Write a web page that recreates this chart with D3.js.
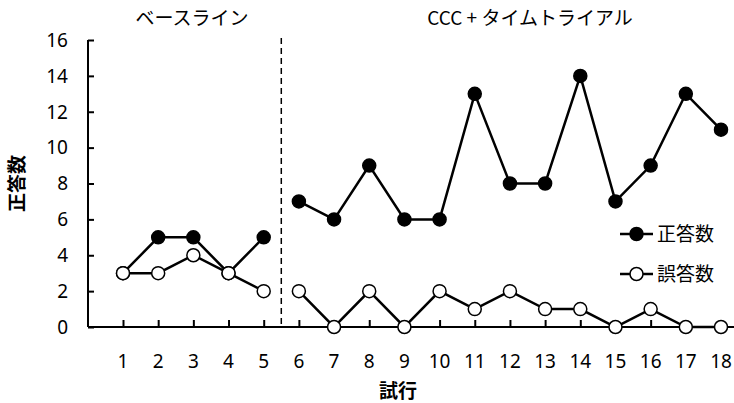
<!DOCTYPE html>
<html>
<head>
<meta charset="utf-8">
<script src="https://cdn.jsdelivr.net/npm/d3@7"></script>
<style>
  body { margin: 0; background: #fff; }
  svg { font-family: "Noto Sans CJK JP", "Open Sans", sans-serif; }
  .num { font-family: "Noto Sans", "Open Sans", sans-serif; }
</style>
</head>
<body>
<div id="chart"></div>
<script>
// Data
let trials = d3.range(1, 19);
let phaseBreak = 5; // baseline ends after trial 5
let correct = [3, 5, 5, 3, 5, 7, 6, 9, 6, 6, 13, 8, 8, 14, 7, 9, 13, 11];
let wrong = [3, 3, 4, 3, 2, 2, 0, 2, 0, 2, 1, 2, 1, 1, 0, 1, 0, 0];
let yTicks = [0, 2, 4, 6, 8, 10, 12, 14, 16];
let phaseNames = ["ベースライン", "CCC + タイムトライアル"];
let seriesNames = ["正答数", "誤答数"];

// Set up dimensions
let width = 734;
let height = 403;
let margin = { top: 40, right: 13, bottom: 76, left: 88 };
let dotRadius = 6.5;

// Set up scales
let xScale = d3.scaleLinear().domain([1, 18]).range([123, 721]);
let yScale = d3
  .scaleLinear()
  .domain([0, 16])
  .range([height - margin.bottom, margin.top]);

const svg = d3
  .select("#chart")
  .append("svg")
  .attr("width", width)
  .attr("height", height);

// Draw y axis
const yAxisG = svg
  .append("g")
  .attr("transform", `translate(${margin.left},0)`)
  .call(d3.axisRight(yScale).tickValues(yTicks).tickSize(6).tickFormat(""));
yAxisG.select(".domain").attr("stroke-width", 2).attr("d", `M0,${yScale(16)}V${yScale(0)}`);
yAxisG.selectAll(".tick line").attr("stroke-width", 2);

svg
  .append("g")
  .attr("class", "num")
  .selectAll("text")
  .data(yTicks)
  .join("text")
  .attr("x", margin.left - 20)
  .attr("y", (d) => yScale(d))
  .attr("dy", "0.36em")
  .attr("text-anchor", "end")
  .attr("font-size", 19)
  .text((d) => d);

// Draw x axis
const xAxisG = svg
  .append("g")
  .attr("transform", `translate(0,${yScale(0)})`)
  .call(d3.axisTop(xScale).tickValues(trials).tickSize(7).tickFormat(""));
xAxisG.select(".domain").attr("stroke-width", 2).attr("d", `M${margin.left},0H${width}`);
xAxisG.selectAll(".tick line").attr("stroke-width", 2);

svg
  .append("g")
  .attr("class", "num")
  .selectAll("text")
  .data(trials)
  .join("text")
  .attr("x", (d) => xScale(d))
  .attr("y", yScale(0) + 41)
  .attr("text-anchor", "middle")
  .attr("font-size", 19)
  .text((d) => d);

// Axis titles
svg
  .append("text")
  .attr("x", 398)
  .attr("y", 398)
  .attr("text-anchor", "middle")
  .attr("font-size", 19)
  .attr("font-weight", "bold")
  .text("試行");

svg
  .append("text")
  .attr("transform", `translate(17,${(yScale(0) + yScale(16)) / 2}) rotate(-90)`)
  .attr("text-anchor", "middle")
  .attr("dy", "0.35em")
  .attr("font-size", 19)
  .attr("font-weight", "bold")
  .text("正答数");

// Phase change line
let phaseX = (xScale(phaseBreak) + xScale(phaseBreak + 1)) / 2;
svg
  .append("line")
  .attr("x1", phaseX)
  .attr("x2", phaseX)
  .attr("y1", yScale(16) - 2)
  .attr("y2", yScale(0))
  .attr("stroke", "#000")
  .attr("stroke-width", 1.5)
  .attr("stroke-dasharray", "6,4");

// Phase titles
svg
  .append("text")
  .attr("x", 192)
  .attr("y", 25)
  .attr("text-anchor", "middle")
  .attr("font-size", 19)
  .text(phaseNames[0]);

svg
  .append("text")
  .attr("x", 530)
  .attr("y", 25)
  .attr("text-anchor", "middle")
  .attr("font-size", 19)
  .text(phaseNames[1]);

// Series
let series = [
  { name: seriesNames[0], values: correct, fill: "#000" },
  { name: seriesNames[1], values: wrong, fill: "#fff" },
];

let line = d3
  .line()
  .x((d) => xScale(d.trial))
  .y((d) => yScale(d.value));

// Correct first, wrong drawn on top
series.forEach((s) => {
  let points = trials.map((t, i) => ({ trial: t, value: s.values[i] }));
  let segments = [
    points.filter((p) => p.trial <= phaseBreak),
    points.filter((p) => p.trial > phaseBreak),
  ];
  let g = svg.append("g");
  g.selectAll("path")
    .data(segments)
    .join("path")
    .attr("d", line)
    .attr("fill", "none")
    .attr("stroke", "#000")
    .attr("stroke-width", 2.5);
  g.selectAll("circle")
    .data(points)
    .join("circle")
    .attr("cx", (d) => xScale(d.trial))
    .attr("cy", (d) => yScale(d.value))
    .attr("r", dotRadius)
    .attr("fill", s.fill)
    .attr("stroke", "#000")
    .attr("stroke-width", 1.5);
});

// Draw legend
let legendItem = svg
  .append("g")
  .selectAll("g")
  .data(series)
  .join("g")
  .attr("transform", (d, i) => `translate(620,${234 + i * 40})`);

legendItem
  .append("line")
  .attr("x1", 0)
  .attr("x2", 33)
  .attr("stroke", "#000")
  .attr("stroke-width", 2.5);

legendItem
  .append("circle")
  .attr("cx", 16.5)
  .attr("r", dotRadius)
  .attr("fill", (d) => d.fill)
  .attr("stroke", "#000")
  .attr("stroke-width", 1.5);

legendItem
  .append("text")
  .attr("x", 37)
  .attr("dy", "0.35em")
  .attr("font-size", 19)
  .text((d) => d.name);
</script>
</body>
</html>
